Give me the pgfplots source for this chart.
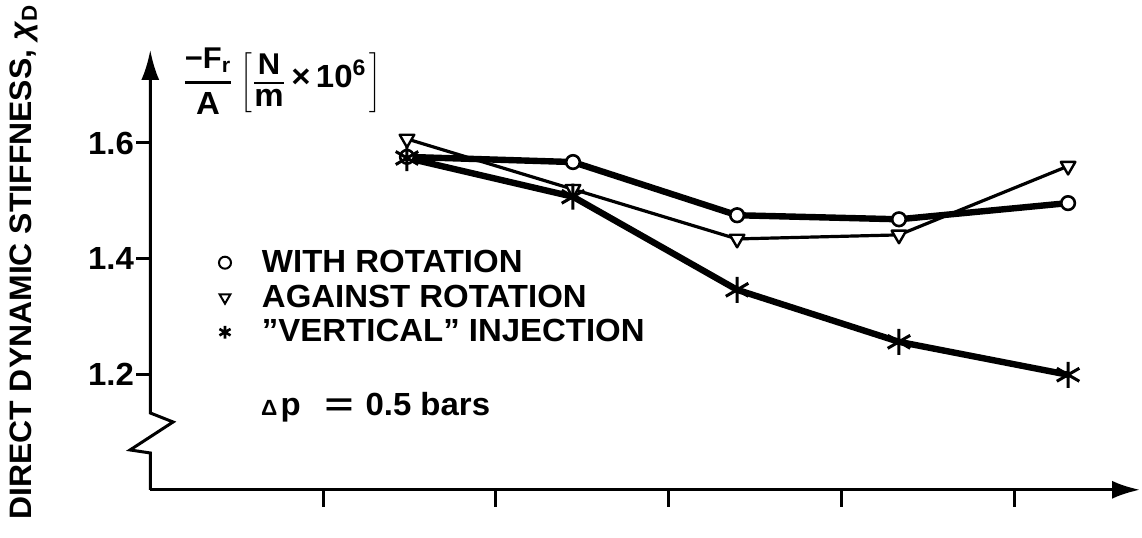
\documentclass[border=0pt]{standalone}
\usepackage{fontspec}
\setmainfont{Liberation Sans}[FakeStretch=1.03]
\usepackage{graphicx}
\usepackage{pgfplots}
\pgfplotsset{compat=1.18}
\usetikzlibrary{arrows.meta}
\newcommand\lf{\fontsize{16}{19}\selectfont\bfseries}
\newcommand\lfs{\fontsize{15}{18}\selectfont\bfseries}

\begin{document}
\begin{tikzpicture}
\begin{axis}[
  x=86.375pt, y=289pt,
  xmin=0, xmax=5.73, ymin=1.0, ymax=1.761,
  axis x line=bottom, axis y line=left,
  x axis line style={line width=1.5pt, -{Latex[length=14pt,width=9pt]}},
  y axis line style={draw=none},
  xtick={1,2,3,4,5}, xticklabels={},
  ytick={1.2,1.4,1.6}, yticklabels={1.2,1.4,1.6},
  tick align=outside, major tick length=7pt,
  xtick style={/pgfplots/major tick length=8.5pt},
  tick style={line width=1.5pt, black},
  yticklabel style={font=\lf, inner sep=1pt},
  clip=false,
  legend cell align=left,
  legend style={at={(0.06335,0.5519)}, anchor=north west, draw=none, fill=none,
    inner sep=0pt, outer sep=0pt, font=\lf, row sep=1.7pt, column sep=0pt,
    nodes={inner sep=1.5pt}},
  legend image code/.code={\path[draw=none, fill=none] (-6pt,0pt) -- (17pt,0pt); \draw[#1] plot coordinates {(0pt,0pt)};},
]
% against rotation
\addplot[forget plot, black, line width=1.6pt, line join=round, mark=triangle*, mark size=4.2pt,
  mark options={fill=white, draw=black, rotate=180, line width=1.2pt}]
  coordinates {(1.486,1.607)(2.447,1.520)(3.397,1.434)(4.334,1.441)(5.313,1.560)};
% with rotation
\addplot[forget plot, black, line width=3.2pt, line join=round, mark=*, mark size=3.4pt,
  mark options={fill=white, draw=black, line width=1.3pt}]
  coordinates {(1.486,1.576)(2.447,1.567)(3.397,1.475)(4.334,1.468)(5.313,1.496)};
% vertical injection
\addplot[forget plot, black, line width=3.2pt, line join=round, mark=asterisk, mark size=6.5pt,
  mark options={line width=1.5pt}]
  coordinates {(1.486,1.574)(2.447,1.507)(3.397,1.346)(4.334,1.256)(5.313,1.199)};

\addlegendimage{only marks, black, mark=o, mark size=3pt, mark options={line width=1pt}}
\addlegendentry{WITH ROTATION}
\addlegendimage{only marks, black, mark=triangle, mark size=3.1pt, mark options={rotate=180, line width=1pt}}
\addlegendentry{AGAINST ROTATION}
\addlegendimage{only marks, black, mark=asterisk, mark size=3.2pt, mark options={line width=1.3pt}}
\addlegendentry{''VERTICAL'' INJECTION}

% broken y axis with arrow
\draw[line width=1.5pt, line join=miter, -{Latex[length=15pt,width=9pt]}]
  (axis cs:0,1.0) -- (axis cs:0,1.0637) -- (axis cs:-0.117,1.0689) -- (axis cs:0.132,1.1173)
  -- (axis cs:0,1.1329) -- (axis cs:0,1.761);

\node[anchor=west, inner sep=0pt] at (axis cs:0.184,1.707)
  {\(\displaystyle{\mbox{\lfs −F\textsubscript{r}}\above 1.4pt\mbox{\lf A}}\,\left[{\mbox{\lfs N}\above 1pt\mbox{\lf m}}\mbox{\lf\,×\,10\textsuperscript{6}}\,\right]\)};

\node[anchor=base west, inner sep=0pt, font=\lf] at (axis cs:0.640,1.128)
  {{\fontsize{11}{11}\selectfont Δ}\hspace{1.5pt}p\hspace{12pt}\scalebox{1.5}[1]{=}\hspace{6pt}0.5 bars};

\node[rotate=90, inner sep=0pt, font=\fontsize{15.5}{18}\selectfont\bfseries] at (axis cs:-0.73,1.394)
  {DIRECT DYNAMIC STIFFNESS, \textit{χ}\textsubscript{D}};

\coordinate (bbSW) at (axis cs:-0.870,0.9166);
\coordinate (bbNE) at (axis cs:5.741,1.8474);
\end{axis}
\pgfresetboundingbox
\path[use as bounding box] (bbSW) rectangle (bbNE);
\end{tikzpicture}
\end{document}
